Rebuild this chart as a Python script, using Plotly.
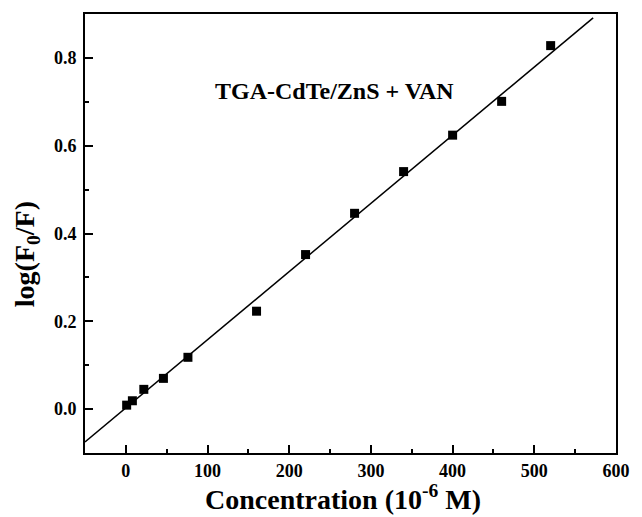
import plotly.graph_objects as go

# Data
concentration = [1, 8, 22, 46, 76, 160, 220, 280, 340, 400, 460, 520]
log_f0_f = [0.009, 0.019, 0.045, 0.070, 0.118, 0.223, 0.352, 0.446, 0.541, 0.624, 0.701, 0.828]

# Linear fit line parameters
fit_slope = 0.001553
fit_intercept = 0.0027
fit_x_range = [-50, 572]

x_ticks = [0, 100, 200, 300, 400, 500, 600]
y_ticks = [0.0, 0.2, 0.4, 0.6, 0.8]

fit_y = [fit_intercept + fit_slope * v for v in fit_x_range]

FONT = "Liberation Serif, Times New Roman, serif"

fig = go.Figure()
fig.add_trace(go.Scatter(x=fit_x_range, y=fit_y, mode="lines",
                         line=dict(color="black", width=1.5), showlegend=False))
fig.add_trace(go.Scatter(x=concentration, y=log_f0_f, mode="markers",
                         marker=dict(symbol="square", size=9, color="black"),
                         showlegend=False))

axis_common = dict(
    showline=True, linecolor="black", linewidth=2, mirror=True,
    ticks="inside", ticklen=8, tickwidth=2, tickcolor="black",
    showgrid=False, zeroline=False,
    tickfont=dict(family=FONT, size=18, color="black", weight="bold"),
)

fig.update_xaxes(range=[-50, 600], tickvals=x_ticks,
                 ticktext=[str(v) for v in x_ticks],
                 minor=dict(ticks="inside", ticklen=4, tickwidth=2, tickcolor="black", dtick=50, tick0=0),
                 ticklabelstandoff=0, **axis_common)
fig.update_yaxes(range=[-0.1, 0.9], tickvals=y_ticks,
                 ticktext=[f"{v:.1f}" for v in y_ticks],
                 minor=dict(ticks="inside", ticklen=4, tickwidth=2, tickcolor="black", dtick=0.1, tick0=0),
                 ticklabelstandoff=3, **axis_common)

fig.add_annotation(x=255, y=0.725, xref="x", yref="y", text="TGA-CdTe/ZnS + VAN",
                   showarrow=False, font=dict(family=FONT, size=24, color="black", weight="bold"))
fig.add_annotation(x=0.486, y=-0.102, xref="paper", yref="paper",
                   text="Concentration (10<sup>-6</sup> M)", showarrow=False,
                   xanchor="center", yanchor="middle",
                   font=dict(family=FONT, size=28, color="black", weight="bold"))
fig.add_annotation(x=-0.111, y=0.453, xref="paper", yref="paper",
                   text="log(F<sub>0</sub>/F)", showarrow=False, textangle=-90,
                   xanchor="center", yanchor="middle",
                   font=dict(family=FONT, size=28, color="black", weight="bold"))

fig.update_layout(
    width=642, height=517,
    margin=dict(l=85, r=16, t=14, b=64),
    plot_bgcolor="white", paper_bgcolor="white",
)

fig.write_html("out.html")
